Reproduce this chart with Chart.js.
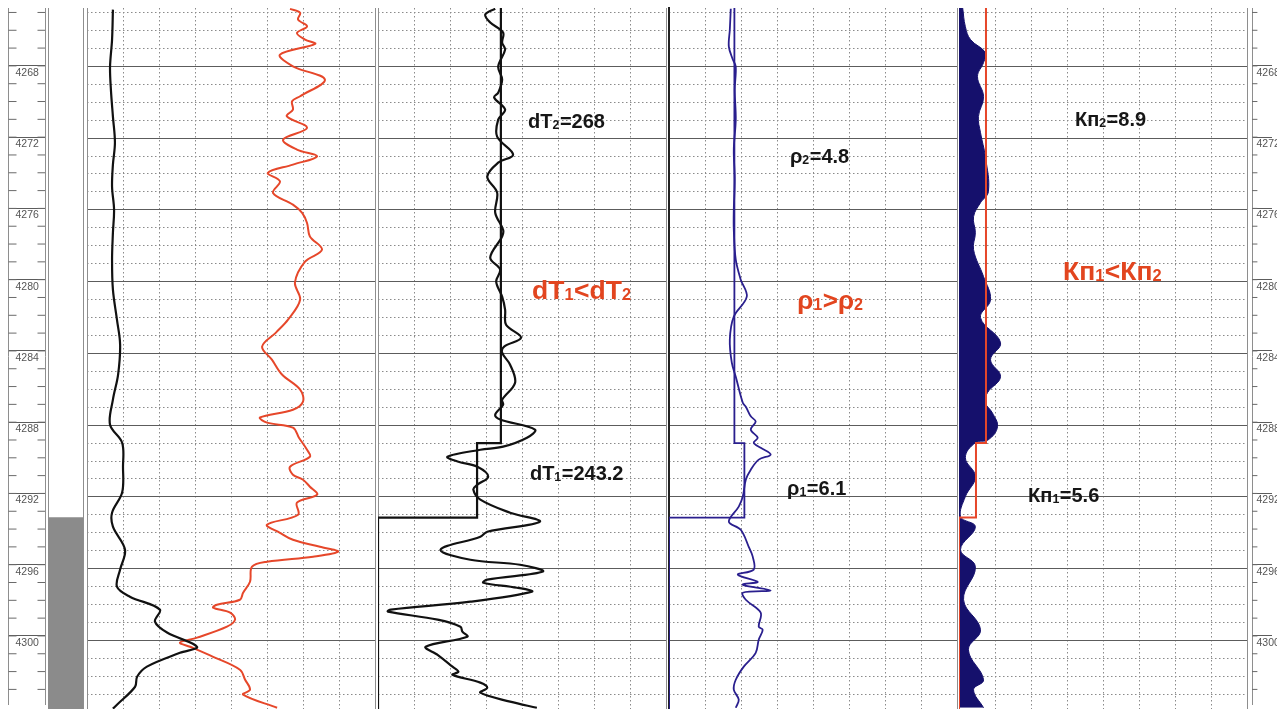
<!DOCTYPE html>
<html lang="ru">
<head>
<meta charset="utf-8">
<title>Интервал 4265–4303 м</title>
<script src="https://cdn.jsdelivr.net/npm/chart.js"></script>
<style>
  html, body { margin: 0; padding: 0; background: #fff; }
  #log { position: relative; width: 1277px; height: 709px; overflow: hidden; background: #fff; }
  #log canvas { position: absolute; left: 0; top: 0; }
</style>
</head>
<body>
<div id="log"></div>
<script>
// ---- depth window (m) ----
const DEPTH_TOP = 4264.75;
const DEPTH_BOTTOM = 4303.82;

const depthLabels = [4268, 4272, 4276, 4280, 4284, 4288, 4292, 4296, 4300];
const depthMinor = [4265, 4266, 4267, 4268, 4269, 4270, 4271, 4272, 4273, 4274, 4275, 4276, 4277,
  4278, 4279, 4280, 4281, 4282, 4283, 4284, 4285, 4286, 4287, 4288, 4289, 4290, 4291, 4292, 4293,
  4294, 4295, 4296, 4297, 4298, 4299, 4300, 4301, 4302, 4303];

// ---- interpreted layers: boundaries and layer values (upper, lower) ----
const layerBounds = [4289.0, 4293.15];
const dtLayers = [268, 243.2];
const rhoLayers = [4.8, 6.1];
const kpLayers = [8.9, 5.6];
const lithoDense = [4293.15, 4303.82];

// ---- track 1: two curves (relative units 0..100) ----
const t1BlackDepth = [4264.84, 4266.51, 4268.02, 4269.30, 4270.80, 4272.25, 4273.48, 4274.71, 4275.99,
  4277.27, 4278.78, 4280.45, 4282.12, 4283.51, 4285.18, 4286.58, 4287.98, 4288.98, 4290.32, 4291.76,
  4292.88, 4293.66, 4294.94, 4296.05, 4297.00, 4297.56, 4298.28, 4298.95, 4299.56, 4300.35, 4300.69,
  4301.46, 4302.02, 4302.58, 4303.58, 4303.80];
const t1BlackValue = [9.0, 8.7, 8.0, 8.3, 9.0, 9.7, 9.0, 8.7, 9.4,
  9.0, 8.7, 9.0, 10.4, 11.5, 10.8, 9.0, 8.0, 12.2, 12.5, 12.2,
  8.7, 9.0, 13.2, 11.5, 10.4, 14.9, 25.3, 23.6, 27.8, 38.2, 32.3,
  20.8, 17.4, 16.7, 10.4, 9.0];

const t1RedDepth = [4264.80, 4265.02, 4265.40, 4265.77, 4266.14, 4266.51, 4266.75, 4267.35, 4268.00,
  4268.74, 4269.67, 4269.95, 4270.41, 4270.79, 4271.43, 4272.09, 4272.64, 4273.02, 4273.48, 4273.94,
  4274.41, 4275.06, 4275.71, 4276.17, 4276.73, 4277.48, 4278.22, 4278.89, 4280.06, 4281.01, 4282.12,
  4282.84, 4283.62, 4284.35, 4285.18, 4286.02, 4286.69, 4287.14, 4287.57, 4287.86, 4288.14, 4288.70,
  4289.37, 4289.76, 4290.32, 4290.76, 4291.04, 4291.43, 4291.87, 4292.32, 4292.99, 4293.55, 4294.00,
  4294.39, 4294.78, 4295.05, 4295.33, 4295.61, 4295.89, 4296.73, 4297.34, 4297.73, 4298.01, 4298.17,
  4298.45, 4298.84, 4299.23, 4299.84, 4300.12, 4300.35, 4300.91, 4301.63, 4302.19, 4302.74, 4303.02,
  4303.75];
const t1RedValue = [70.5, 74.0, 73.3, 76.4, 72.9, 75.7, 79.2, 67.0, 71.5,
  82.6, 74.0, 71.2, 71.5, 69.4, 76.4, 68.1, 72.9, 79.9, 71.5, 62.8,
  67.0, 64.6, 71.5, 74.7, 76.4, 77.4, 81.6, 75.7, 72.2, 74.0, 69.8,
  65.6, 60.8, 64.2, 67.7, 74.0, 75.0, 71.5, 60.1, 62.5, 71.5, 73.6,
  76.4, 77.4, 70.5, 71.5, 75.0, 77.4, 79.9, 72.9, 73.3, 62.5, 67.0,
  71.5, 80.9, 87.2, 78.5, 62.5, 57.3, 56.6, 54.2, 53.1, 45.1, 43.8,
  49.7, 51.4, 48.6, 38.2, 32.3, 35.8, 43.8, 53.1, 54.9, 56.6, 54.2,
  66.0];

// ---- track 2: interval transit time dT ----
const dtDepth = [4264.79, 4265.12, 4265.56, 4266.12, 4266.68, 4267.07, 4268.02, 4268.74, 4269.47,
  4269.74, 4270.41, 4270.97, 4271.92, 4272.92, 4273.37, 4274.15, 4275.04, 4276.16, 4277.11, 4277.49,
  4278.66, 4279.33, 4280.00, 4280.84, 4281.56, 4282.40, 4283.12, 4283.62, 4283.96, 4284.63, 4285.63,
  4286.58, 4286.86, 4287.42, 4287.68, 4288.25, 4288.70, 4289.20, 4289.37, 4289.76, 4290.04, 4290.32,
  4290.87, 4291.32, 4291.59, 4292.15, 4292.88, 4293.38, 4293.94, 4294.22, 4294.94, 4295.50, 4295.78,
  4296.16, 4296.61, 4296.78, 4297.06, 4297.28, 4297.84, 4298.28, 4298.39, 4298.84, 4299.23, 4299.51,
  4299.79, 4300.35, 4300.80, 4301.46, 4301.74, 4301.91, 4302.35, 4302.63, 4302.91, 4303.41, 4303.75];
const dtValue = [262.1, 251.7, 256.9, 270.3, 269.3, 272.4, 265.2, 269.3, 265.2,
  261.0, 272.4, 265.2, 264.1, 280.7, 265.2, 253.8, 264.1, 262.1, 270.3, 269.3,
  256.9, 267.2, 263.1, 269.3, 272.4, 273.4, 289.0, 271.4, 269.3, 277.6, 282.8,
  269.3, 270.3, 262.1, 267.2, 303.5, 295.2, 270.3, 246.6, 212.4, 223.8, 243.5,
  254.8, 243.5, 239.3, 246.6, 277.6, 308.6, 253.8, 246.6, 205.2, 236.2, 287.9,
  311.7, 253.8, 249.7, 284.8, 300.3, 236.2, 153.4, 150.3, 202.1, 225.9, 227.9,
  233.1, 189.7, 202.1, 217.6, 223.8, 217.6, 246.6, 253.8, 246.6, 277.6, 305.5];

// ---- track 3: resistivity rho (log scale) ----
const rhoDepth = [4264.79, 4265.96, 4266.90, 4267.62, 4268.02, 4269.30, 4270.97, 4272.64, 4274.32,
  4275.99, 4277.11, 4278.78, 4279.89, 4280.84, 4281.95, 4283.23, 4284.52, 4285.30, 4286.75, 4286.97,
  4287.51, 4287.80, 4288.25, 4288.70, 4288.98, 4289.26, 4289.64, 4289.92, 4290.48, 4291.04, 4291.98,
  4292.54, 4293.38, 4293.83, 4294.78, 4295.33, 4296.05, 4296.33, 4296.73, 4296.89, 4297.22, 4297.34,
  4297.73, 4298.45, 4299.23, 4299.40, 4299.96, 4300.69, 4301.46, 4302.19, 4302.74, 4303.30, 4303.75];
const rhoValue = [4.40, 4.30, 4.20, 4.62, 4.96, 4.84, 4.96, 4.73, 4.84,
  4.73, 4.73, 4.96, 5.59, 6.46, 4.73, 4.30, 4.51, 4.96, 5.87, 6.31,
  7.11, 8.00, 7.11, 8.40, 7.63, 9.02, 11.46, 8.60, 7.11, 6.31, 5.87,
  5.33, 4.20, 5.59, 6.77, 7.45, 7.63, 5.21, 8.40, 5.87, 11.46, 5.87,
  6.31, 9.02, 8.60, 9.46, 8.60, 8.00, 6.01, 4.96, 4.73, 5.33, 4.96];

// ---- track 4: porosity Kп ----
const kpDepth = [4264.73, 4265.79, 4266.51, 4267.24, 4267.79, 4268.57, 4269.69, 4270.80, 4271.70,
  4273.03, 4274.98, 4275.60, 4276.38, 4277.27, 4278.22, 4279.72, 4281.01, 4282.01, 4283.40, 4284.35,
  4285.30, 4286.19, 4286.75, 4287.31, 4288.09, 4288.81, 4288.98, 4289.81, 4290.87, 4291.98, 4293.10,
  4293.66, 4294.94, 4295.89, 4297.73, 4299.40, 4300.52, 4302.19, 4302.74, 4303.75];
const kpValue = [1.2, 2.1, 3.8, 8.7, 8.1, 6.1, 8.1, 6.4, 7.1,
  8.7, 9.7, 7.1, 4.8, 5.4, 4.8, 8.1, 10.4, 7.1, 13.7, 10.4,
  13.7, 9.4, 8.7, 11.0, 12.7, 9.7, 5.4, 2.1, 5.4, 2.1, 0.5,
  5.4, 0.5, 5.4, 1.5, 7.1, 3.1, 8.1, 4.8, 8.1];

// ---- styling ----
const W = 1277, H = 709, TOP = 8;
const GRID_DOT = '#8a8a8a';
const GRID_MAJOR = '#5c5c5c';
const FRAME = '#8e8e8e';
const INK = '#161616';
const RED = '#e6472a';
const RED_TEXT = '#e2451f';
const NAVY = '#15106c';
const INDIGO = '#2a1f8e';
const FONT = '"Liberation Sans", Arial, sans-serif';
const CLEAR = 'rgba(0,0,0,0)';

const root = document.getElementById('log');
function newCanvas() {
  const c = document.createElement('canvas');
  c.width = W; c.height = H;
  root.appendChild(c);
  return c;
}

function depthAxis(extra) {
  return Object.assign({ type: 'linear', reverse: true, min: DEPTH_TOP, max: DEPTH_BOTTOM }, extra);
}

// an axis that only draws its frame line
function frameAxis(position, show, color, width) {
  return depthAxis({
    position: position,
    ticks: { display: false },
    grid: { display: false, drawTicks: false },
    border: { display: show, color: color || FRAME, width: width || 1 }
  });
}

function baseOptions(left, right) {
  return {
    responsive: false,
    animation: false,
    devicePixelRatio: 1,
    events: [],
    layout: { padding: { left: left, right: W - right, top: TOP, bottom: 0 } },
    plugins: { legend: { display: false }, tooltip: { enabled: false } },
    elements: { point: { radius: 0 } }
  };
}

function curve(depths, values, style) {
  return Object.assign({
    data: depths.map((d, i) => ({ x: values[i], y: d })),
    xAxisID: 'x', yAxisID: 'y', pointRadius: 0, fill: false, tension: 0.35
  }, style);
}

// step line of the interpreted layers; below the last boundary it sits on the axis floor
function layerSteps(values, floor) {
  const pts = [{ x: values[0], y: DEPTH_TOP }];
  layerBounds.forEach((b, i) => {
    pts.push({ x: i < values.length ? values[i] : floor, y: b });
    pts.push({ x: i + 1 < values.length ? values[i + 1] : floor, y: b });
  });
  pts.push({ x: floor, y: DEPTH_BOTTOM });
  return pts;
}

// inscriptions inside a track: "_d" marks a subscript digit
function notesPlugin(notes) {
  return {
    id: 'trackNotes',
    afterDatasetsDraw(chart) {
      const ctx = chart.ctx, xs = chart.scales.xg, ys = chart.scales.y;
      notes.forEach(n => {
        let cx = xs.getPixelForValue(n.at);
        const by = ys.getPixelForValue(n.depth);
        ctx.save();
        ctx.fillStyle = n.color;
        ctx.textAlign = 'left';
        ctx.textBaseline = 'alphabetic';
        n.text.split(/(_\d)/).filter(Boolean).forEach(part => {
          const sub = part[0] === '_';
          const txt = sub ? part.slice(1) : part;
          const fs = sub ? n.size * 0.62 : n.size;
          ctx.font = 'bold ' + fs + 'px ' + FONT;
          ctx.fillText(txt, cx, by + (sub ? n.size * 0.05 : 0));
          cx += ctx.measureText(txt).width + (sub ? 0.5 : 0);
        });
        ctx.restore();
      });
    }
  };
}

function makeTrack(t) {
  const opts = baseOptions(t.left, t.right);
  opts.indexAxis = 'y';
  opts.scales = {
    x: Object.assign({ display: false }, t.xScale),
    xg: {
      type: 'linear', axis: 'x', position: 'top', min: 0, max: 8,
      ticks: { display: false, stepSize: 1 },
      grid: {
        color: c => (c.tick && c.tick.value > 0 && c.tick.value < 8) ? GRID_DOT : CLEAR,
        drawTicks: false, lineWidth: 1
      },
      border: { display: false, dash: [1.5, 2.5] }
    },
    y: depthAxis({
      position: 'left',
      ticks: { display: false, stepSize: 1, autoSkip: false, includeBounds: false },
      grid: {
        color: c => (c.tick && Math.round(c.tick.value) % 4 === 0) ? CLEAR : GRID_DOT,
        drawTicks: false, lineWidth: 1
      },
      border: { display: false, dash: [1.5, 2.5] }
    }),
    yMajor: depthAxis({
      position: 'left',
      ticks: { display: false, stepSize: 4, autoSkip: false, includeBounds: false },
      grid: { color: GRID_MAJOR, drawTicks: false, lineWidth: 1 },
      border: { display: true, color: t.leftFrame || FRAME, width: t.leftFrameWidth || 1 }
    }),
    yRight: frameAxis('right', true)
  };
  return new Chart(newCanvas(), {
    type: 'line',
    data: { datasets: t.datasets },
    options: opts,
    plugins: [notesPlugin(t.notes || [])]
  });
}

function makeDepthTrack(left, right, tickSpan, tickCentres, tickRadius, labelPad, rightFrame) {
  const opts = baseOptions(left, right);
  opts.scales = {
    x: { type: 'linear', min: 0, max: tickSpan, display: false },
    y: depthAxis({
      position: 'left',
      afterBuildTicks: s => { s.ticks = depthLabels.map(v => ({ value: v })); },
      // labels sit inside the track, so the axis itself takes no room
      afterFit: s => { s.width = 0; s.paddingTop = 0; s.paddingBottom = 0; },
      ticks: {
        mirror: true, crossAlign: 'near', padding: labelPad, labelOffset: 7,
        autoSkip: false, color: '#555', font: { family: FONT, size: 10.5 },
        callback: v => String(v)
      },
      grid: { color: GRID_MAJOR, drawTicks: false, lineWidth: 1 },
      border: { display: true, color: FRAME, width: 1 }
    }),
    yRight: frameAxis('right', rightFrame)
  };
  return new Chart(newCanvas(), {
    type: 'scatter',
    data: {
      datasets: tickCentres.map(cx => ({
        data: depthMinor.map(d => ({ x: cx, y: d })),
        pointStyle: 'line', pointRadius: tickRadius, borderColor: '#6a6a6a', borderWidth: 1
      }))
    },
    options: opts
  });
}

// depth scale, left
makeDepthTrack(8, 45, 37, [4.5, 33.5], 4, 7.5, true);

// lithology column
(function () {
  const opts = baseOptions(48, 83);
  opts.scales = {
    x: { display: false },
    y: frameAxis('left', true),
    yRight: frameAxis('right', true)
  };
  new Chart(newCanvas(), {
    type: 'bar',
    data: { labels: ['литология'], datasets: [{ data: [lithoDense], backgroundColor: '#8b8b8b',
      borderWidth: 0, barPercentage: 1, categoryPercentage: 1 }] },
    options: opts
  });
})();

// track 1
makeTrack({
  left: 87, right: 375,
  xScale: { type: 'linear', min: 0, max: 100 },
  datasets: [
    curve(t1BlackDepth, t1BlackValue, { borderColor: '#111', borderWidth: 2.2 }),
    curve(t1RedDepth, t1RedValue, { borderColor: RED, borderWidth: 2 })
  ]
});

// track 2: dT
makeTrack({
  left: 378, right: 666,
  xScale: { type: 'linear', min: 140, max: 440 },
  datasets: [
    { data: layerSteps(dtLayers, 140), xAxisID: 'x', yAxisID: 'y', borderColor: '#111', borderWidth: 2.2,
      pointRadius: 0, tension: 0, fill: false },
    curve(dtDepth, dtValue, { borderColor: '#111', borderWidth: 2.2 })
  ],
  notes: [
    { text: 'dT_2=268', at: 4.17, depth: 4271.42, color: INK, size: 20 },
    { text: 'dT_1<dT_2', at: 4.28, depth: 4280.97, color: RED_TEXT, size: 26.5 },
    { text: 'dT_1=243.2', at: 4.22, depth: 4291.04, color: INK, size: 20 }
  ]
});

// track 3: rho
makeTrack({
  left: 669, right: 957, leftFrame: '#222', leftFrameWidth: 2,
  xScale: { type: 'logarithmic', min: 1, max: 1000 },
  datasets: [
    { data: layerSteps(rhoLayers, 1), xAxisID: 'x', yAxisID: 'y', borderColor: INDIGO, borderWidth: 1.8,
      pointRadius: 0, tension: 0, fill: false },
    curve(rhoDepth, rhoValue, { borderColor: INDIGO, borderWidth: 1.8 })
  ],
  notes: [
    { text: 'ρ_2=4.8', at: 3.36, depth: 4273.37, color: INK, size: 20 },
    { text: 'ρ_1>ρ_2', at: 3.56, depth: 4281.5, color: RED_TEXT, size: 26 },
    { text: 'ρ_1=6.1', at: 3.28, depth: 4291.87, color: INK, size: 20 }
  ]
});

// track 4: Kп
makeTrack({
  left: 959, right: 1247,
  xScale: { type: 'linear', min: 0, max: 95 },
  datasets: [
    { data: layerSteps(kpLayers, 0), xAxisID: 'x', yAxisID: 'y', borderColor: RED, borderWidth: 2,
      pointRadius: 0, tension: 0, fill: false },
    curve(kpDepth, kpValue, { borderColor: NAVY, borderWidth: 1, backgroundColor: NAVY,
      fill: { value: 0 }, tension: 0.4 })
  ],
  notes: [
    { text: 'Кп_2=8.9', at: 3.22, depth: 4271.31, color: INK, size: 20 },
    { text: 'Кп_1<Кп_2', at: 2.89, depth: 4279.89, color: RED_TEXT, size: 26.5 },
    { text: 'Кп_1=5.6', at: 1.92, depth: 4292.26, color: INK, size: 20 }
  ]
});

// depth scale, right
makeDepthTrack(1252, 1277, 25, [3], 3, 4.5, false);
</script>
</body>
</html>
